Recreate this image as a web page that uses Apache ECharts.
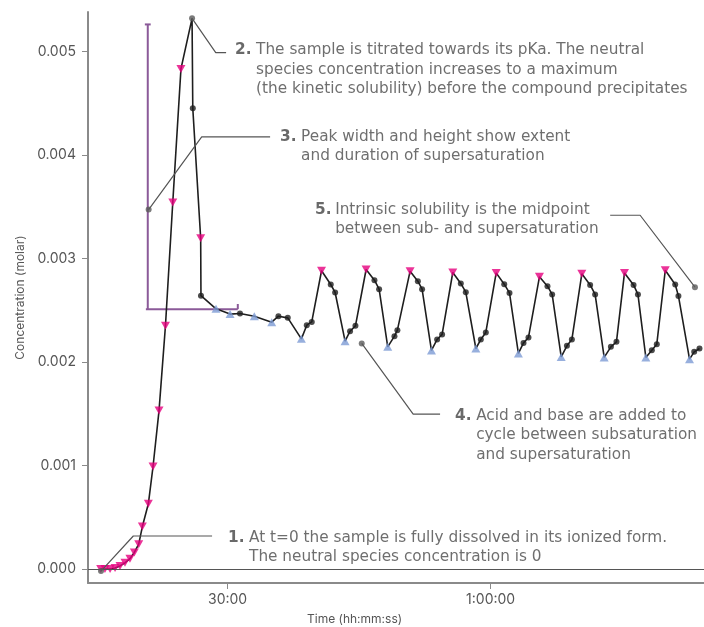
<!DOCTYPE html>
<html><head><meta charset="utf-8">
<script src="https://cdn.jsdelivr.net/npm/echarts@6/dist/echarts.min.js"></script>
<style>html,body{margin:0;padding:0;background:#fff}#c{width:704px;height:627px}</style>
</head><body><div id="c"></div>
<script>
// time in seconds, concentration in molar; marker: d = acid (down triangle), u = base (up triangle), o = dot, n = none
const times = [932,961,996,1030,1064,1098,1132,1162,1192,1217,1258,1290,1331,1375,1425,1481,
  1557,1562,1616,1618,1721,1817,1885,1983,2102,2148,2212,2305,2342,2376,
  2443,2506,2536,2604,2638,2675,
  2748,2805,2837,2896,2942,2962,
  3049,3102,3131,3195,3234,3268,
  3341,3396,3430,3499,3533,3567,
  3638,3693,3729,3790,3825,3859,
  3934,3989,4021,4083,4122,4156,
  4224,4281,4315,4377,4423,4461,
  4516,4578,4608,4662,4703,4737,
  4795,4863,4885,4961,4993,5029];
const conc = [0,0,0,0.00001,0.00003,0.00006,0.0001,0.00016,0.00024,0.00041,0.00063,0.00099,0.00153,0.00235,0.00354,0.00483,
  0.005319,0.00445,0.003195,0.00264,0.002513,0.002462,0.002468,0.002442,0.002384,0.002442,0.002426,0.002223,0.002355,0.002387,
  0.002881,0.002748,0.002671,0.002201,0.002297,0.002349,
  0.002893,0.00279,0.002703,0.002146,0.002249,0.002307,
  0.002877,0.00278,0.002703,0.002111,0.002217,0.002266,
  0.002864,0.002758,0.002674,0.00213,0.002217,0.002285,
  0.00286,0.002751,0.002667,0.002082,0.002184,0.002237,
  0.002822,0.002732,0.002652,0.002049,0.002156,0.002217,
  0.002851,0.002744,0.002652,0.002044,0.002146,0.002194,
  0.00286,0.002744,0.002652,0.002044,0.002114,0.002172,
  0.002886,0.002748,0.002638,0.002027,0.002098,0.00213];
const markers = ['d','d','d','d','d','d','d','d','d','d','d','d','d','d','d','d',
  'n','o','d','o','u','u','o','u','u','o','o','u','o','o',
  'd','o','o','u','o','o',
  'd','o','o','u','o','o',
  'd','o','o','u','o','o',
  'd','o','o','u','o','o',
  'd','o','o','u','o','o',
  'd','o','o','u','o','o',
  'd','o','o','u','o','o',
  'd','o','o','u','o','o',
  'd','o','o','u','o','o'];

const intrinsicSolubility = 0.002442;
const xTickValues = [1800, 3600];
const yTickValues = [0, 0.001, 0.002, 0.003, 0.004, 0.005];

// annotation geometry (data coordinates)
const annoDots = [[934,-0.00002],[1557,0.005319],[1260,0.003472],[2718,0.002179],[4998,0.002722]];
const leaders = [
  [[934,-0.00002],[1155,0.000319],[1694,0.000319]],
  [[1557,0.005319],[1719,0.004988],[1790,0.004988]],
  [[1260,0.003472],[1623,0.004173],[2091,0.004173]],
  [[2718,0.002179],[3070,0.001496],[3254,0.001496]],
  [[4998,0.002722],[4623,0.003417],[4418,0.003417]]
];
const bracket = [
  [[1234,0.00526],[1274,0.00526]],
  [[1254,0.00526],[1254,0.00251]],
  [[1241,0.00251],[1870,0.00251]],
  [[1870,0.00251],[1870,0.00256]]
];
const annoNumbers = ['1.','2.','3.','4.','5.'];
const annoNumPos = [[1803,0.000396],[1851,0.005106],[2159,0.004267],[3357,0.001574],[2399,0.003562]];
const annoBodyPos = [[1947,0.000396],[1995,0.005106],[2303,0.004267],[3501,0.001574],[2536,0.003562]];
const annoBodies = [
  'At t=0 the sample is fully dissolved in its ionized form.\nThe neutral species concentration is 0',
  'The sample is titrated towards its pKa. The neutral\nspecies concentration increases to a maximum\n(the kinetic solubility) before the compound precipitates',
  'Peak width and height show extent\nand duration of supersaturation',
  'Acid and base are added to\ncycle between subsaturation\nand supersaturation',
  'Intrinsic solubility is the midpoint\nbetween sub- and supersaturation'
];

const FONT = 'Inter';
const AFONT = 'DejaVu Sans';
const lineData = times.map((t,i)=>[t,conc[i]]);
const pick = m => times.map((t,i)=>markers[i]===m?[t,conc[i]]:null).filter(Boolean);

function fmt(s){
  const h=Math.floor(s/3600), m=Math.floor((s%3600)/60), sec=Math.round(s%60);
  const p=n=>String(n).padStart(2,'0');
  return h>0 ? h+':'+p(m)+':'+p(sec) : p(m)+':'+p(sec);
}

const series = [
  {type:'line', data:lineData, symbol:'none', lineStyle:{color:'#1e1e1e', width:1.6}, z:3,
   markLine:{silent:true, symbol:'none', label:{show:false}, lineStyle:{color:'#555', width:1, type:'solid'},
     data:[{yAxis:intrinsicSolubility}]}},
  {type:'scatter', data:pick('o'), symbol:'circle', symbolSize:6, itemStyle:{color:'#1e1e1e'}, z:4},
  {type:'scatter', data:pick('u'), symbol:'triangle', symbolSize:[9,8], itemStyle:{color:'#7d9bd4'}, z:4},
  {type:'scatter', data:pick('d'), symbol:'triangle', symbolRotate:180, symbolSize:[9,8], itemStyle:{color:'#e6007e'}, z:4},
];
bracket.forEach(seg=>series.push({type:'line', data:seg, symbol:'none', lineStyle:{color:'#8b5a99', width:2}, z:2}));
leaders.forEach(seg=>series.push({type:'line', data:seg, symbol:'none', lineStyle:{color:'#555', width:1.2}, z:5}));
series.push({type:'scatter', data:annoDots, symbol:'circle', symbolSize:6, itemStyle:{color:'#5a5a5a'}, z:6});
series.push({type:'scatter', symbolSize:0, z:7, data:annoNumPos.map((p,i)=>({value:p, name:annoNumbers[i]})),
  label:{show:true, position:[0,0], align:'left', verticalAlign:'top', formatter:p=>p.name,
    fontFamily:AFONT, fontSize:15.3, fontWeight:'bold', color:'#444', lineHeight:19.5}});
series.push({type:'scatter', symbolSize:0, z:7, data:annoBodyPos.map((p,i)=>({value:p, name:annoBodies[i]})),
  label:{show:true, position:[0,0], align:'left', verticalAlign:'top', formatter:p=>p.name,
    fontFamily:AFONT, fontSize:15.3, color:'#4a4a4a', lineHeight:19.5}});

const chart = echarts.init(document.getElementById('c'), null, {renderer:'canvas'});
chart.setOption({
  animation:false,
  grid:{left:88, right:0, top:12, bottom:44, containLabel:false},
  xAxis:{type:'value', min:845, max:5060,
    axisLine:{onZero:false, lineStyle:{color:'#8a8a8a', width:2}},
    axisTick:{customValues:xTickValues, length:6, lineStyle:{color:'#8a8a8a'}},
    axisLabel:{customValues:xTickValues, formatter:v=>fmt(v), color:'#555', fontFamily:FONT, fontSize:14, margin:10},
    splitLine:{show:false}},
  yAxis:{type:'value', min:-0.000135, max:0.00538,
    axisLine:{show:true, lineStyle:{color:'#8a8a8a', width:2}},
    axisTick:{show:true, customValues:yTickValues, length:6, lineStyle:{color:'#8a8a8a'}},
    axisLabel:{customValues:yTickValues, formatter:v=>v.toFixed(3), color:'#555', fontFamily:FONT, fontSize:14, margin:12},
    splitLine:{show:false},
    name:'Concentration (molar)', nameLocation:'middle', nameGap:62,
    nameTextStyle:{color:'#555', fontFamily:FONT, fontSize:12}},
  graphic:[{type:'text', left:307, top:613, style:{text:'Time (hh:mm:ss)', fill:'#555', font:'12px '+FONT}}],
  series:series
});
</script></body></html>
